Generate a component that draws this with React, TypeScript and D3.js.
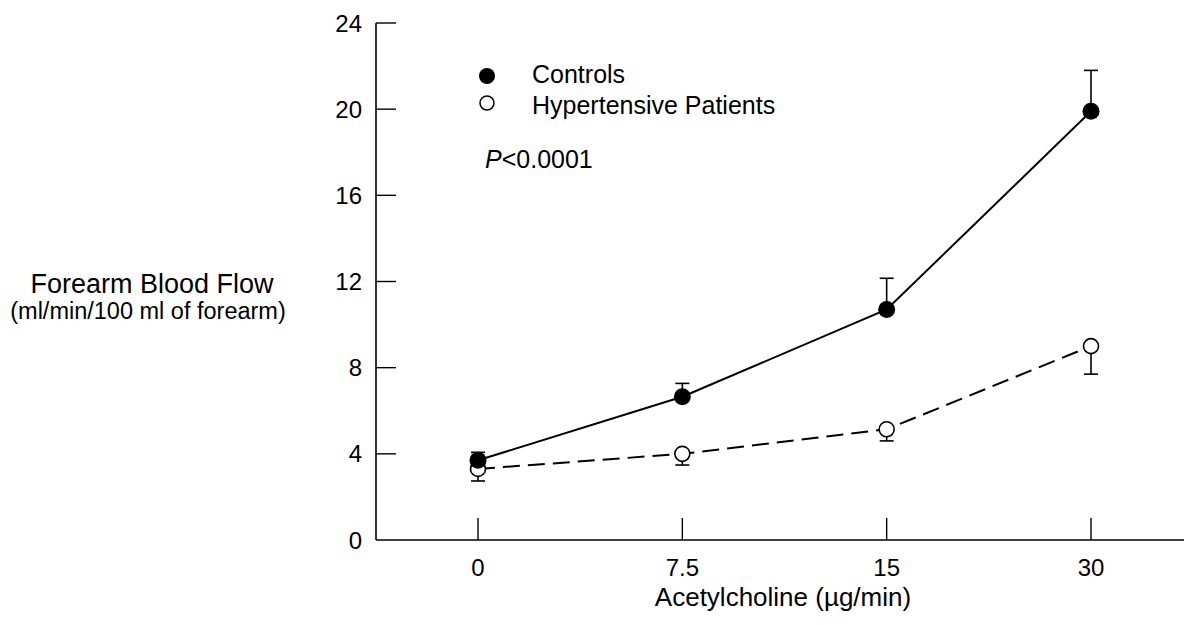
import React, { useEffect, useRef } from 'react';
import * as d3 from 'd3';

// Acetylcholine doses (µg/min)
const doses = ['0', '7.5', '15', '30'];

// Forearm blood flow, ml/min/100 ml of forearm
const controlsMean = [3.7, 6.65, 10.7, 19.9];
const controlsUpper = [4.07, 7.27, 12.15, 21.8];
const hypertensiveMean = [3.3, 4.0, 5.14, 9.0];
const hypertensiveLower = [2.74, 3.48, 4.6, 7.7];

const yTicks = [0, 4, 8, 12, 16, 20, 24];

const width = 1184;
const height = 625;

const App: React.FC = () => {
  const svgRef = useRef<SVGSVGElement>(null);

  useEffect(() => {
    if (!svgRef.current) return;
    const svg = d3.select(svgRef.current);
    svg.selectAll('*').remove();

    const font = '"Liberation Sans", Arial, Helvetica, sans-serif';
    const axisLeft = 376;
    const axisBottom = 540;

    const x = d3.scalePoint<string>().domain(doses).range([478, 1091]);
    const y = d3.scaleLinear().domain([0, 24]).range([axisBottom, 23]);

    const g = svg.append('g').attr('font-family', font).attr('fill', '#000');

    // axes
    g.append('line')
      .attr('x1', axisLeft).attr('x2', axisLeft)
      .attr('y1', y(24)).attr('y2', axisBottom)
      .attr('stroke', '#000').attr('stroke-width', 1.6);
    g.append('line')
      .attr('x1', axisLeft).attr('x2', width)
      .attr('y1', axisBottom).attr('y2', axisBottom)
      .attr('stroke', '#000').attr('stroke-width', 1.6);

    // y ticks point inward
    yTicks.forEach(t => {
      if (t > 0) {
        g.append('line')
          .attr('x1', axisLeft).attr('x2', axisLeft + 20)
          .attr('y1', y(t)).attr('y2', y(t))
          .attr('stroke', '#000').attr('stroke-width', 1.4);
      }
      g.append('text')
        .attr('x', 362).attr('y', y(t) + 8.5)
        .attr('text-anchor', 'end')
        .style('font-size', '24px')
        .text(t);
    });

    doses.forEach(d => {
      g.append('line')
        .attr('x1', x(d)!).attr('x2', x(d)!)
        .attr('y1', axisBottom).attr('y2', axisBottom - 22)
        .attr('stroke', '#000').attr('stroke-width', 1.4);
      g.append('text')
        .attr('x', x(d)!).attr('y', 576)
        .attr('text-anchor', 'middle')
        .style('font-size', '24px')
        .text(d);
    });

    // axis titles
    g.append('text')
      .attr('x', 783).attr('y', 606)
      .attr('text-anchor', 'middle')
      .style('font-size', '26px')
      .text('Acetylcholine (µg/min)');
    g.append('text')
      .attr('x', 152).attr('y', 293)
      .attr('text-anchor', 'middle')
      .style('font-size', '27px')
      .text('Forearm Blood Flow');
    g.append('text')
      .attr('x', 148).attr('y', 319)
      .attr('text-anchor', 'middle')
      .style('font-size', '23.5px')
      .text('(ml/min/100 ml of forearm)');

    const line = d3.line<number>()
      .x((_, i) => x(doses[i])!)
      .y(v => y(v));

    // error bars (controls up, patients down)
    const errorBar = (means: number[], ends: number[]) => {
      means.forEach((m, i) => {
        const cx = x(doses[i])!;
        g.append('line')
          .attr('x1', cx).attr('x2', cx)
          .attr('y1', y(m)).attr('y2', y(ends[i]))
          .attr('stroke', '#000').attr('stroke-width', 1.6);
        g.append('line')
          .attr('x1', cx - 7).attr('x2', cx + 7)
          .attr('y1', y(ends[i])).attr('y2', y(ends[i]))
          .attr('stroke', '#000').attr('stroke-width', 1.6);
      });
    };
    errorBar(controlsMean, controlsUpper);
    errorBar(hypertensiveMean, hypertensiveLower);

    g.append('path')
      .datum(hypertensiveMean)
      .attr('d', line)
      .attr('fill', 'none')
      .attr('stroke', '#000')
      .attr('stroke-width', 2)
      .attr('stroke-dasharray', '17,8');

    g.append('path')
      .datum(controlsMean)
      .attr('d', line)
      .attr('fill', 'none')
      .attr('stroke', '#000')
      .attr('stroke-width', 2);

    g.selectAll('.hyp')
      .data(hypertensiveMean)
      .enter()
      .append('circle')
      .attr('cx', (_, i) => x(doses[i])!)
      .attr('cy', d => y(d))
      .attr('r', 7.5)
      .attr('fill', '#fff')
      .attr('stroke', '#000')
      .attr('stroke-width', 1.6);

    g.selectAll('.ctl')
      .data(controlsMean)
      .enter()
      .append('circle')
      .attr('cx', (_, i) => x(doses[i])!)
      .attr('cy', d => y(d))
      .attr('r', 8.5)
      .attr('fill', '#000');

    // legend
    g.append('circle').attr('cx', 487).attr('cy', 76).attr('r', 8).attr('fill', '#000');
    g.append('circle').attr('cx', 487).attr('cy', 103).attr('r', 7)
      .attr('fill', '#fff').attr('stroke', '#000').attr('stroke-width', 1.5);
    g.append('text').attr('x', 532).attr('y', 83).style('font-size', '25px').text('Controls');
    g.append('text').attr('x', 532).attr('y', 114).style('font-size', '25px').text('Hypertensive Patients');

    const p = g.append('text').attr('x', 485).attr('y', 168).style('font-size', '25px');
    p.append('tspan').attr('font-style', 'italic').text('P');
    p.append('tspan').text('<0.0001');
  }, []);

  return (
    <svg
      ref={svgRef}
      width={width}
      height={height}
      style={{ position: 'absolute', left: 0, top: 0, background: '#fff' }}
    />
  );
};

export default App;
